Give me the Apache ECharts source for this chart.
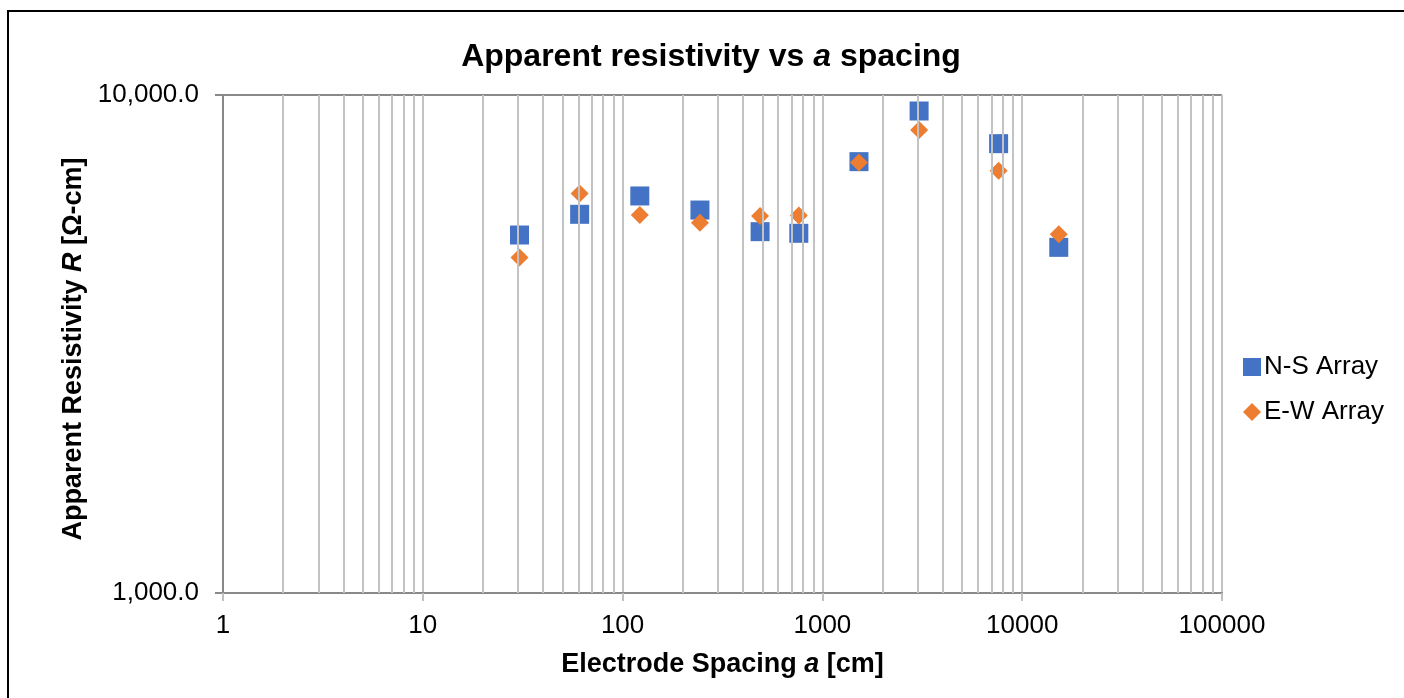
<!DOCTYPE html>
<html>
<head>
<meta charset="utf-8">
<script src="https://cdn.jsdelivr.net/npm/echarts@6/dist/echarts.min.js"></script>
<style>
html,body{margin:0;padding:0;background:#fff;overflow:hidden;}
#chart{width:1404px;height:698px;}
</style>
</head>
<body>
<div id="chart"></div>
<script>
// Electrode spacing a [cm]
const spacing = [30.48, 60.96, 121.92, 243.84, 487.68, 762, 1524, 3048, 7620, 15240];
// Apparent resistivity [Ω-cm]
const nsArray = [5234, 5760, 6270, 5875, 5316, 5276, 7348, 9287, 7985, 4944];
const ewArray = [4715, 6344, 5741, 5541, 5715, 5727, 7315, 8503, 7047, 5253];
const seriesNames = ['N-S Array', 'E-W Array'];
const xRange = [1, 100000];
const yRange = [1000, 10000];

// minor log gridline positions (2..9 x 10^k)
const minorX = [];
for (let d = xRange[0]; d < xRange[1]; d *= 10) {
  for (let m = 2; m <= 9; m++) minorX.push({ xAxis: m * d });
}

const font = 'Arial, "Liberation Sans", sans-serif';
const chart = echarts.init(document.getElementById('chart'), null, { renderer: 'canvas' });
chart.setOption({
  animation: false,
  backgroundColor: '#fff',
  textStyle: { fontFamily: font, color: '#000' },
  graphic: [
    { type: 'line', z: 100, silent: true,
      shape: { x1: 8, y1: 10, x2: 8, y2: 698 },
      style: { stroke: '#000', lineWidth: 2 } },
    { type: 'line', z: 100, silent: true,
      shape: { x1: 7, y1: 11, x2: 1404, y2: 11 },
      style: { stroke: '#000', lineWidth: 2 } },
    { type: 'text', x: 711, y: 41, z: 100,
      style: {
        text: '{b|Apparent resistivity vs }{i|a}{b| spacing}',
        align: 'center', verticalAlign: 'top',
        rich: {
          b: { fontFamily: font, fontSize: 32, fontWeight: 'bold', fill: '#000' },
          i: { fontFamily: font, fontSize: 32, fontWeight: 'bold', fontStyle: 'italic', fill: '#000' }
        }
      } }
  ],
  grid: { left: 223, right: 182, top: 95, bottom: 105, containLabel: false },
  legend: {
    data: seriesNames,
    orient: 'vertical',
    left: 1243, top: 354,
    itemWidth: 18, itemHeight: 18, itemGap: 19,
    padding: 0,
    textStyle: { fontFamily: font, fontSize: 26, color: '#000', padding: [0, 0, 0, -2] }
  },
  xAxis: {
    type: 'log', logBase: 10, min: xRange[0], max: xRange[1], splitNumber: 5,
    name: '{b|Electrode Spacing }{i|a}{b| [cm]}',
    nameLocation: 'middle', nameGap: 58,
    nameTextStyle: {
      rich: {
        b: { fontFamily: font, fontSize: 27, fontWeight: 'bold', color: '#000' },
        i: { fontFamily: font, fontSize: 27, fontWeight: 'bold', fontStyle: 'italic', color: '#000' }
      }
    },
    axisLine: { show: true, lineStyle: { color: '#898989', width: 2 } },
    axisTick: { show: true, length: 8, lineStyle: { color: '#bfbfbf', width: 2 } },
    axisLabel: { fontFamily: font, fontSize: 26, color: '#000', margin: 20,
      formatter: v => String(Math.round(v)) },
    splitLine: { show: true, lineStyle: { color: '#c3c3c3', width: 2 } },
    minorTick: { show: false }, minorSplitLine: { show: false }
  },
  yAxis: {
    type: 'log', logBase: 10, min: yRange[0], max: yRange[1], splitNumber: 1,
    name: '{b|Apparent Resistivity }{i|R}{b| [Ω-cm]}',
    nameLocation: 'middle', nameRotate: 90, nameGap: 134,
    nameTextStyle: {
      padding: [0, 10, 0, 0],
      rich: {
        b: { fontFamily: font, fontSize: 27, fontWeight: 'bold', color: '#000' },
        i: { fontFamily: font, fontSize: 27, fontWeight: 'bold', fontStyle: 'italic', color: '#000' }
      }
    },
    axisLine: { show: true, lineStyle: { color: '#898989', width: 2 } },
    axisTick: { show: true, length: 8, lineStyle: { color: '#898989', width: 2 } },
    axisLabel: { fontFamily: font, fontSize: 26, color: '#000', margin: 24,
      formatter: v => Math.round(v).toLocaleString('en-US', { minimumFractionDigits: 1, maximumFractionDigits: 1 }) },
    splitLine: { show: true, lineStyle: { color: '#898989', width: 2 } }
  },
  series: [
    {
      name: 'minor-grid', type: 'scatter', data: [], z: 1, silent: true,
      markLine: {
        silent: true, symbol: ['none', 'none'], label: { show: false },
        lineStyle: { type: 'solid', color: '#c3c3c3', width: 2 },
        emphasis: { disabled: true },
        data: minorX
      }
    },
    {
      name: seriesNames[0], type: 'scatter', symbol: 'rect', symbolSize: 19, z: 3,
      itemStyle: { color: '#4472C4', opacity: 1 },
      data: spacing.map((x, i) => [x, nsArray[i]])
    },
    {
      name: seriesNames[1], type: 'scatter', symbol: 'diamond', symbolSize: 18, z: 4,
      itemStyle: { color: '#ED7D31', opacity: 1 },
      data: spacing.map((x, i) => [x, ewArray[i]])
    }
  ]
});
</script>
</body>
</html>
